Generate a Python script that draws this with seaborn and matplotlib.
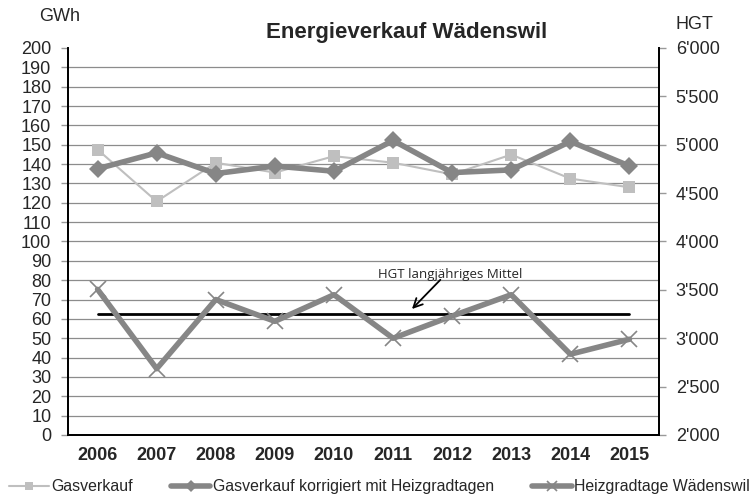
import matplotlib
matplotlib.use("Agg")
import matplotlib.pyplot as plt
import seaborn as sns
import pandas as pd
from matplotlib.lines import Line2D
from matplotlib.ticker import FixedLocator, FuncFormatter

years = [2006, 2007, 2008, 2009, 2010, 2011, 2012, 2013, 2014, 2015]
gasverkauf = [147.5, 120.7, 140.7, 135.6, 144.1, 140.7, 134.7, 144.9, 132.5, 128.0]
gas_korrigiert = [137.6, 145.8, 135.1, 139.0, 136.3, 152.2, 135.6, 137.0, 151.7, 139.0]
heizgradtage = [3505, 2685, 3400, 3175, 3450, 3000, 3230, 3450, 2835, 2990]
hgt_mittel = 3250

left_ticks = list(range(0, 201, 10))
right_ticks = list(range(2000, 6001, 500))

df = pd.DataFrame({"Jahr": years, "Gasverkauf": gasverkauf,
                   "Korr": gas_korrigiert, "HGT": heizgradtage})

sns.set_style("white")
plt.rcParams["font.family"] = ["Liberation Sans", "DejaVu Sans"]

fig = plt.figure(figsize=(7.56, 5.03), dpi=100)
ax = fig.add_axes([0.090, 0.1352, 0.7817, 0.7694])
ax2 = ax.twinx()

light = "#BFBFBF"
dark = "#868686"

sns.lineplot(data=df, x="Jahr", y="Gasverkauf", ax=ax, color=light, lw=1.5,
             marker="s", markersize=8, markeredgewidth=0, zorder=3)
sns.lineplot(data=df, x="Jahr", y="Korr", ax=ax, color=dark, lw=4,
             marker="D", markersize=9, markeredgewidth=0, zorder=4)
sns.lineplot(data=df, x="Jahr", y="HGT", ax=ax2, color=dark, lw=4,
             marker="x", markersize=12, markeredgewidth=1.2,
             markeredgecolor=dark, markerfacecolor=dark, zorder=4)
ax2.plot([years[0], years[-1]], [hgt_mittel, hgt_mittel], color="black", lw=2, zorder=3)

ax.set_xlim(years[0] - 0.5, years[-1] + 0.5)
ax.set_ylim(0, 200)
ax2.set_ylim(2000, 6000)

for v in left_ticks[1:-1]:
    ax.axhline(v, color="#8C8C8C", lw=0.9, zorder=1)

ax.yaxis.set_major_locator(FixedLocator(left_ticks))
ax.set_yticklabels([str(v) for v in left_ticks])
ax2.yaxis.set_major_locator(FixedLocator(right_ticks))
ax2.yaxis.set_major_formatter(FuncFormatter(lambda v, p: f"{int(v):,}".replace(",", "'")))

ax.set_xticks(years)
ax.set_xticklabels([str(y) for y in years], fontweight="bold", fontsize=13)
ax.set_xticks([y - 0.5 for y in years] + [years[-1] + 0.5], minor=True)
ax.tick_params(axis="x", which="major", length=0, pad=9)
ax.tick_params(axis="x", which="minor", length=6, color="#999999", width=1, direction="out")
ax.tick_params(axis="y", length=5, color="#999999", width=1, direction="out", labelsize=13, pad=7)
ax2.tick_params(axis="y", length=5, color="#999999", width=1, direction="out", labelsize=13, pad=7)

ax.set_xlabel("")
ax.set_ylabel("")
ax2.set_ylabel("")

for a in (ax, ax2):
    a.spines["top"].set_visible(False)
    for s in ("left", "right", "bottom"):
        a.spines[s].set_color("black")
        a.spines[s].set_linewidth(1.3)

ax.text(2011.96, 82.7, "HGT langjähriges Mittel", ha="center", va="center",
        fontsize=9.5, family=["Open Sans", "DejaVu Sans"], zorder=6)
ax.annotate("", xy=(2011.32, 65.1), xytext=(2011.8, 80.2),
            arrowprops=dict(arrowstyle="->", color="black", lw=1.3,
                            shrinkA=0, shrinkB=0, mutation_scale=16), zorder=6)

fig.text(0.538, 0.9245, "Energieverkauf Wädenswil", ha="center", va="baseline",
         fontsize=16, fontweight="bold")
fig.text(0.052, 1 - 21 / 503, "GWh", ha="left", va="baseline", fontsize=13)
fig.text(0.893, 1 - 29 / 503, "HGT", ha="left", va="baseline", fontsize=13)

handles = [
    Line2D([], [], color=light, lw=1.5, marker="s", markersize=6, markeredgewidth=0),
    Line2D([], [], color=dark, lw=4, marker="D", markersize=6, markeredgewidth=0),
    Line2D([], [], color=dark, lw=4, marker="x", markersize=7, markeredgewidth=1.2),
]
labels = ["Gasverkauf", "Gasverkauf korrigiert mit Heizgradtagen", "Heizgradtage Wädenswil"]
for a in (ax, ax2):
    if a.get_legend() is not None:
        a.get_legend().remove()
fig.legend(handles, labels, loc="center", bbox_to_anchor=(0.502, 0.032), ncol=3,
           frameon=False, fontsize=11.4, handlelength=2.5, handletextpad=0.15,
           columnspacing=2.4, borderaxespad=0, borderpad=0)

fig.savefig("out.png", dpi=100)
